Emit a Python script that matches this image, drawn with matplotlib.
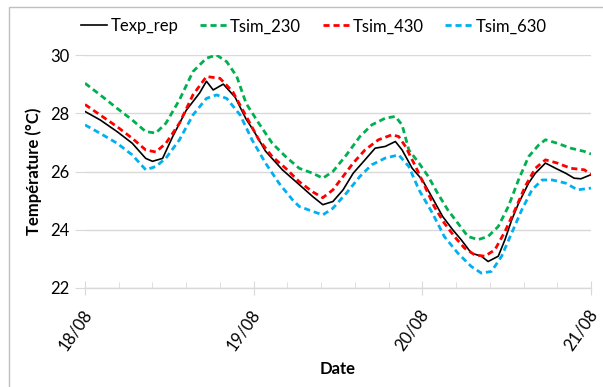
import matplotlib
matplotlib.use("Agg")
import matplotlib.pyplot as plt
from matplotlib.patches import Rectangle
from matplotlib.transforms import ScaledTranslation

plt.rcParams['font.family'] = ['Lato', 'DejaVu Sans']

# time in days since 18/08 00:00
t_exp = [0.0, 0.09, 0.19, 0.28, 0.36, 0.40, 0.46, 0.52, 0.60, 0.68, 0.72, 0.76, 0.82, 0.89, 0.955, 1.0,
         1.07, 1.17, 1.27, 1.35, 1.41, 1.47, 1.53, 1.59, 1.66, 1.72, 1.78, 1.84, 1.88, 1.94, 2.0,
         2.06, 2.12, 2.18, 2.23, 2.29, 2.35, 2.39, 2.45, 2.49, 2.53, 2.57, 2.63, 2.67, 2.73,
         2.79, 2.85, 2.90, 2.94, 3.0]
T_exp = [28.06, 27.77, 27.37, 26.97, 26.45, 26.35, 26.45, 27.2, 28.1, 28.7, 29.1, 28.8, 29.0, 28.55, 27.8, 27.4,
         26.7, 26.06, 25.55, 25.14, 24.86, 24.97, 25.37, 25.94, 26.4, 26.8, 26.86, 27.03, 26.74, 26.11, 25.71,
         25.09, 24.46, 24.0, 23.66, 23.2, 23.09, 22.91, 23.09, 23.66, 24.34, 24.9, 25.6, 25.94, 26.29,
         26.11, 25.94, 25.77, 25.75, 25.89]

t_230 = [0.0, 0.09, 0.19, 0.28, 0.36, 0.42, 0.48, 0.56, 0.64, 0.72, 0.78, 0.84, 0.90, 0.955, 1.03, 1.11,
         1.19, 1.27, 1.35, 1.41, 1.47, 1.55, 1.63, 1.70, 1.78, 1.84, 1.88, 1.92, 1.98, 2.035, 2.09,
         2.15, 2.21, 2.27, 2.33, 2.39, 2.45, 2.51, 2.57, 2.63, 2.69, 2.73, 2.80, 2.88, 2.96, 3.0]
T_230 = [29.03, 28.63, 28.17, 27.77, 27.37, 27.32, 27.66, 28.46, 29.43, 29.89, 30.0, 29.77, 29.26, 28.34, 27.66, 26.97,
         26.51, 26.11, 25.94, 25.77, 26.0, 26.57, 27.2, 27.6, 27.83, 27.89, 27.6, 26.74, 26.29, 25.83, 25.26,
         24.69, 24.23, 23.77, 23.66, 23.77, 24.11, 24.8, 25.71, 26.51, 26.91, 27.09, 26.97, 26.8, 26.69, 26.6]

t_430 = [0.0, 0.09, 0.19, 0.28, 0.36, 0.42, 0.48, 0.56, 0.64, 0.72, 0.80, 0.876, 0.955, 1.03, 1.11, 1.19,
         1.27, 1.35, 1.41, 1.47, 1.53, 1.59, 1.66, 1.74, 1.82, 1.86, 1.90, 1.96, 2.015, 2.07, 2.13,
         2.19, 2.25, 2.31, 2.37, 2.43, 2.49, 2.55, 2.61, 2.67, 2.73, 2.80, 2.88, 2.96, 3.0]
T_430 = [28.3, 27.94, 27.54, 27.14, 26.74, 26.67, 26.97, 27.66, 28.63, 29.26, 29.2, 28.74, 27.9, 27.1, 26.51, 26.11,
         25.65, 25.3, 25.1, 25.37, 25.83, 26.29, 26.74, 27.09, 27.26, 27.2, 26.86, 26.17, 25.49, 24.8, 24.23,
         23.77, 23.37, 23.14, 23.09, 23.31, 23.94, 24.69, 25.49, 26.11, 26.4, 26.29, 26.11, 26.06, 25.9]

t_630 = [0.0, 0.09, 0.19, 0.28, 0.36, 0.42, 0.48, 0.56, 0.64, 0.72, 0.78, 0.84, 0.92, 0.99, 1.07, 1.15,
         1.23, 1.27, 1.35, 1.41, 1.47, 1.55, 1.63, 1.70, 1.78, 1.86, 1.92, 1.98, 2.06, 2.13, 2.21,
         2.29, 2.35, 2.41, 2.47, 2.53, 2.59, 2.65, 2.71, 2.77, 2.85, 2.92, 3.0]
T_630 = [27.6, 27.31, 26.97, 26.57, 26.06, 26.17, 26.46, 27.09, 27.94, 28.51, 28.63, 28.51, 27.94, 27.09, 26.29, 25.6,
         25.03, 24.8, 24.63, 24.51, 24.74, 25.26, 25.83, 26.23, 26.46, 26.57, 26.17, 25.37, 24.57, 23.77, 23.2,
         22.74, 22.51, 22.57, 23.09, 23.89, 24.69, 25.37, 25.71, 25.71, 25.6, 25.37, 25.43]

date_labels = ['18/08', '19/08', '20/08', '21/08']
series_names = ['Texp_rep', 'Tsim_230', 'Tsim_430', 'Tsim_630']

fig = plt.figure(figsize=(6.03, 3.87), dpi=100)
ax = fig.add_axes([85/603, 1-288/387, (591-85)/603, (288-55)/387])

ax.plot(t_exp, T_exp, color='black', lw=1.2, label=series_names[0])
ax.plot(t_230, T_230, color='#00b050', lw=2, dashes=(2.2, 1.4), label=series_names[1])
ax.plot(t_430, T_430, color='#ff0000', lw=2, dashes=(2.2, 1.4), label=series_names[2])
ax.plot(t_630, T_630, color='#00b0f0', lw=2, dashes=(2.2, 1.4), label=series_names[3])

ax.set_xlim(0, 3)
ax.set_ylim(22, 30)
ax.set_yticks([22, 24, 26, 28, 30])
ax.set_xticks(range(len(date_labels)))
ax.set_xticklabels(date_labels, rotation=55, ha='right', va='center',
                   rotation_mode='anchor', fontsize=12)
ax.set_xticks([i / 5 for i in range(16) if i % 5], minor=True)
ax.tick_params(axis='y', labelsize=12, length=7, color='#d9d9d9', pad=4)
ax.tick_params(axis='x', which='major', direction='inout', length=10, color='#d9d9d9', pad=12)
ax.tick_params(axis='x', which='minor', direction='in', length=4, color='#d9d9d9')
shift = ScaledTranslation(3/100, 0, fig.dpi_scale_trans)
for lab in ax.get_xticklabels():
    lab.set_transform(lab.get_transform() + shift)
ax.grid(axis='y', color='#d9d9d9', lw=1)
ax.set_axisbelow(True)
for s in ['left', 'right', 'top']:
    ax.spines[s].set_visible(False)
ax.spines['bottom'].set_color('#d9d9d9')
ax.spines['bottom'].set_linewidth(1)

ax.set_ylabel('Température (°C)', fontsize=12, fontweight='bold', labelpad=6)
ax.set_xlabel('Date', fontsize=12, fontweight='bold', labelpad=5)

fig.legend(loc='center', bbox_to_anchor=(0.52, 0.932), ncol=4, frameon=False,
           fontsize=12, handlelength=1.6, handletextpad=0.2, columnspacing=1.3)

fig.patches.append(Rectangle((9/603, -0.1), 1.2, 1.1 - 7/387, transform=fig.transFigure,
                             fill=False, edgecolor='#bfbfbf', lw=1))

fig.savefig('out.png', dpi=100)
